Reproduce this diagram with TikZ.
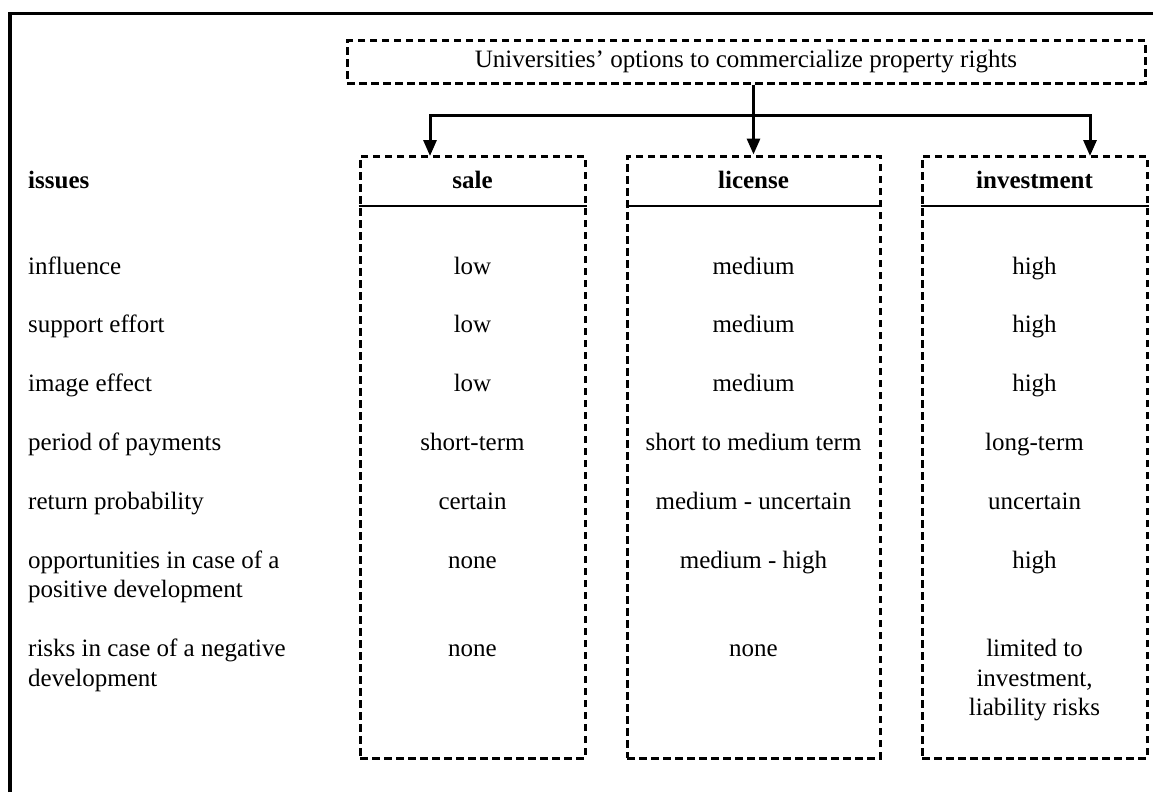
\documentclass[tikz,border=0pt]{standalone}
\usepackage{fontspec}
\setmainfont{Liberation Serif}
\usetikzlibrary{arrows.meta}
\begin{document}
\begin{tikzpicture}[x=1pt,y=-1pt,
  txt/.style={inner sep=0pt, font=\fontsize{25}{29.45}\selectfont},
  lbl/.style={txt, anchor=base west, align=left},
  val/.style={txt, anchor=base, align=center},
  hdr/.style={inner sep=0pt, anchor=base, font=\fontsize{25}{29.45}\selectfont\bfseries},
  dbox/.style={draw, line width=3pt, dash pattern=on 7.5pt off 4.5pt, inner sep=0pt},
  conn/.style={line width=3pt, -{Triangle[length=16pt,width=13pt]}},
  rule/.style={line width=2.2pt},
]
\useasboundingbox (0,0) rectangle (1153,792);
\draw[line width=3.5pt] (10,792) -- (10,13.5) -- (1153,13.5);

% top box
\node[dbox, txt, minimum width=798pt, minimum height=42pt] (top) at (746,62)
  {Universities’ options to commercialize property rights};

% column boxes
\node[dbox, minimum width=225pt, minimum height=602pt] (sale) at (472.5,457) {};
\node[dbox, minimum width=253pt, minimum height=602pt] (license) at (753.5,457) {};
\node[dbox, minimum width=225pt, minimum height=602pt] (investment) at (1034.5,457) {};

% header rules
\coordinate (hl) at (0,206);
\draw[rule] (sale.west |- hl) -- (sale.east |- hl);
\draw[rule] (license.west |- hl) -- (license.east |- hl);
\draw[rule] (investment.west |- hl) -- (investment.east |- hl);

% connectors
\coordinate (hub) at (753.5,115);
\coordinate (saleIn) at (430,156);
\coordinate (invIn) at (1090,156);
\draw[conn] (top.south -| license.north) -- (license.north);
\draw[line width=3pt, {Triangle[length=16pt,width=13pt]}-{Triangle[length=16pt,width=13pt]}]
  (saleIn) -- (saleIn |- hub) -- (invIn |- hub) -- (invIn);

% headers
\node[hdr, anchor=base west] (hissues) at (28,188) {issues};
\node[hdr] (hsale) at (472.5,188) {sale};
\node[hdr] (hlicense) at (753.5,188) {license};
\node[hdr] (hinvestment) at (1034.5,188) {investment};

% row labels (multi-line nodes: base = last line)
\node[lbl] (l1) at (28,274) {influence};
\node[lbl] (l2) at (28,332.9) {support effort};
\node[lbl] (l3) at (28,391.8) {image effect};
\node[lbl] (l4) at (28,450.7) {period of payments};
\node[lbl] (l5) at (28,509.6) {return probability};
\node[lbl] (l6) at (28,597.95) {opportunities in case of a\\positive development};
\node[lbl] (l7) at (28,686.35) {risks in case of a negative\\development};

% sale values
\node[val] (s1) at (472.5,274) {low};
\node[val] (s2) at (472.5,332.9) {low};
\node[val] (s3) at (472.5,391.8) {low};
\node[val] (s4) at (472.5,450.7) {short-term};
\node[val] (s5) at (472.5,509.6) {certain};
\node[val] (s6) at (472.5,568.5) {none};
\node[val] (s7) at (472.5,656.9) {none};

% license values
\node[val] (c1) at (753.5,274) {medium};
\node[val] (c2) at (753.5,332.9) {medium};
\node[val] (c3) at (753.5,391.8) {medium};
\node[val] (c4) at (753.5,450.7) {short to medium term};
\node[val] (c5) at (753.5,509.6) {medium - uncertain};
\node[val] (c6) at (753.5,568.5) {medium - high};
\node[val] (c7) at (753.5,656.9) {none};

% investment values
\node[val] (i1) at (1034.5,274) {high};
\node[val] (i2) at (1034.5,332.9) {high};
\node[val] (i3) at (1034.5,391.8) {high};
\node[val] (i4) at (1034.5,450.7) {long-term};
\node[val] (i5) at (1034.5,509.6) {uncertain};
\node[val] (i6) at (1034.5,568.5) {high};
\node[val] (i7) at (1034.5,715.8) {limited to\\investment,\\liability risks};
\end{tikzpicture}
\end{document}
